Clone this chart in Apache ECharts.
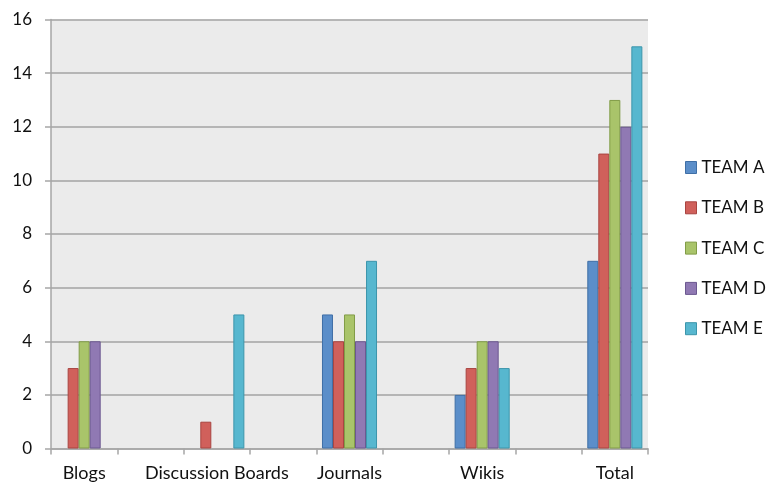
<!DOCTYPE html>
<html><head><meta charset="utf-8">
<script src="https://cdn.jsdelivr.net/npm/echarts@6/dist/echarts.min.js"></script>
<style>html,body{margin:0;padding:0;background:#fff}#c{width:767px;height:484px}</style>
</head><body><div id="c"></div>
<script>
const categories = ['Blogs', 'Discussion Boards', 'Journals', 'Wikis', 'Total'];
const teamNames = ['TEAM A', 'TEAM B', 'TEAM C', 'TEAM D', 'TEAM E'];
const teamA = [0, 0, 5, 2, 7];
const teamB = [3, 1, 4, 3, 11];
const teamC = [4, 0, 5, 4, 13];
const teamD = [4, 0, 4, 4, 12];
const teamE = [0, 5, 7, 3, 15];
const yTicks = [0, 2, 4, 6, 8, 10, 12, 14, 16];

const colors = ['#5b8ec9', '#d0605b', '#a9c46a', '#9079b3', '#57b7cf'];
const borders = ['#3f6fa6', '#a84440', '#819c47', '#6b5890', '#3c95ab'];

// spread categories with an empty slot between each (as in the source sheet)
const cats = [];
categories.forEach((c, i) => { if (i) cats.push(''); cats.push(c); });
function spread(arr) {
  const out = [];
  arr.forEach((v, i) => { if (i) out.push(null); out.push(v === 0 ? null : v); });
  return out;
}
const all = [teamA, teamB, teamC, teamD, teamE];

const chart = echarts.init(document.getElementById('c'));
chart.setOption({
  animation: false,
  textStyle: { fontFamily: 'Lato, "Open Sans", sans-serif' },
  grid: { left: 51, right: 119, top: 19.5, bottom: 35.5, show: true, backgroundColor: '#ebebeb', borderWidth: 0 },
  legend: {
    orient: 'vertical', left: 685, top: 159, itemGap: 23.3, padding: 0,
    itemWidth: 11, itemHeight: 12,
    textStyle: { fontSize: 17, lineHeight: 16, color: '#111', fontFamily: 'Lato, sans-serif' },
    data: teamNames.map((n, i) => ({ name: n, icon: 'rect', itemStyle: { color: colors[i], borderColor: borders[i], borderWidth: 1 } }))
  },
  xAxis: {
    type: 'category', data: cats,
    axisLine: { lineStyle: { color: '#a6a6a6', width: 1.5 } },
    axisTick: { show: true, length: 6, lineStyle: { color: '#a6a6a6', width: 1.5 }, interval: 0 },
    axisLabel: { interval: 0, fontSize: 18, color: '#111', margin: 16, fontFamily: 'Lato, sans-serif' }
  },
  yAxis: {
    type: 'value', min: yTicks[0], max: yTicks[yTicks.length - 1], interval: 2,
    axisLine: { show: true, lineStyle: { color: '#a6a6a6', width: 1.5 } },
    axisTick: { show: true, length: 6, lineStyle: { color: '#a6a6a6', width: 1.5 } },
    splitLine: { lineStyle: { color: '#a3a3a3', width: 1.5 } },
    axisLabel: { fontSize: 17, color: '#111', margin: 19, fontFamily: 'Lato, sans-serif' }
  },
  series: all.map((d, i) => ({
    name: teamNames[i], type: 'bar', data: spread(d),
    barGap: '0%', barCategoryGap: '17%',
    itemStyle: { color: colors[i], borderColor: borders[i], borderWidth: 1 }
  }))
});
</script></body></html>
